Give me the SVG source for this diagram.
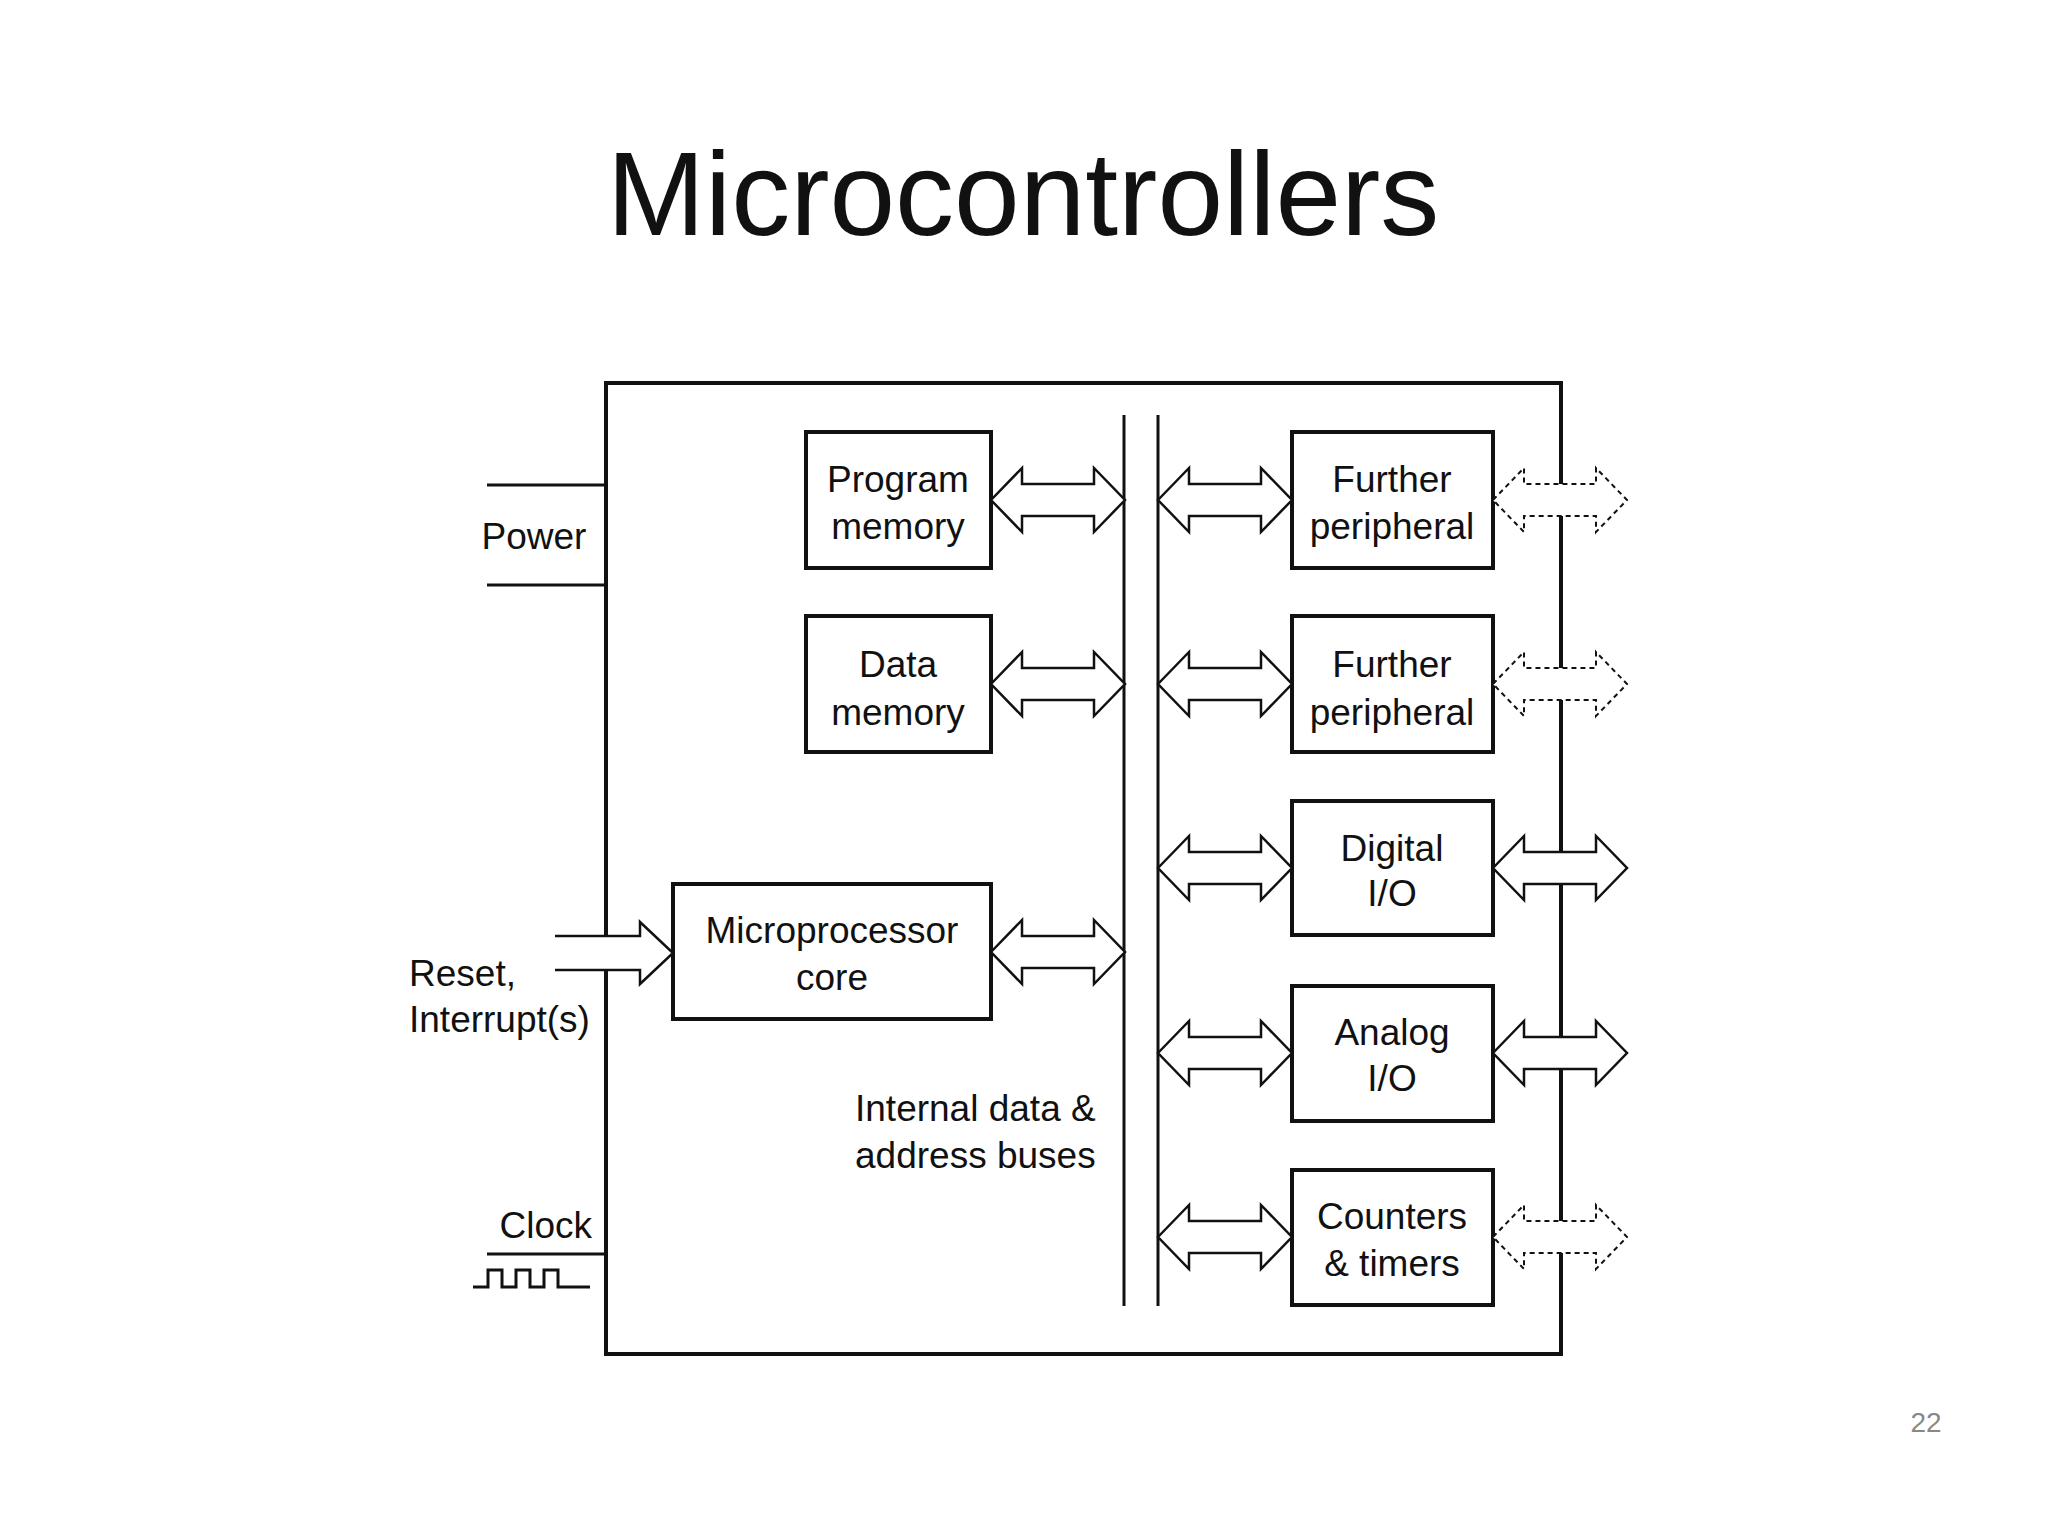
<svg xmlns="http://www.w3.org/2000/svg" xmlns:xlink="http://www.w3.org/1999/xlink" width="2048" height="1536" viewBox="0 0 2048 1536">
<style>
text{font-family:"Liberation Sans",Arial,sans-serif;fill:#111}
.t{font-size:37px}
.c{text-anchor:middle}
.box{fill:#fff;stroke:#111;stroke-width:4}
.ln{stroke:#111;stroke-width:3;fill:none}
.ar{fill:#fff;stroke:#111;stroke-width:2.5}
.da{fill:#fff;stroke:#111;stroke-width:2;stroke-dasharray:5 4}
</style>
<defs>
<path id="dbl" d="M0,0 L31,-32 L31,-16 L103,-16 L103,-32 L134,0 L103,32 L103,16 L31,16 L31,32 Z"/>
</defs>
<rect width="2048" height="1536" fill="#fff"/>
<text x="1023" y="235" class="c" style="font-size:118px">Microcontrollers</text>
<g id="chip"><rect x="606" y="383" width="955" height="971" class="box"/></g>
<g id="bus"><line x1="1124" y1="415" x2="1124" y2="1306" class="ln"/><line x1="1158" y1="415" x2="1158" y2="1306" class="ln"/></g>
<g id="prog"><rect x="806" y="432" width="185" height="136" class="box"/><text x="898" y="492" class="t c">Program</text><text x="898" y="539" class="t c">memory</text></g>
<g id="data"><rect x="806" y="616" width="185" height="136" class="box"/><text x="898" y="677" class="t c">Data</text><text x="898" y="725" class="t c">memory</text></g>
<g id="core"><rect x="673" y="884" width="318" height="135" class="box"/><text x="832" y="943" class="t c">Microprocessor</text><text x="832" y="990" class="t c">core</text></g>
<g id="fp1"><rect x="1292" y="432" width="201" height="136" class="box"/><text x="1392" y="492" class="t c">Further</text><text x="1392" y="539" class="t c">peripheral</text></g>
<g id="fp2"><rect x="1292" y="616" width="201" height="136" class="box"/><text x="1392" y="677" class="t c">Further</text><text x="1392" y="725" class="t c">peripheral</text></g>
<g id="dio"><rect x="1292" y="801" width="201" height="134" class="box"/><text x="1392" y="861" class="t c">Digital</text><text x="1392" y="906" class="t c">I/O</text></g>
<g id="aio"><rect x="1292" y="986" width="201" height="135" class="box"/><text x="1392" y="1045" class="t c">Analog</text><text x="1392" y="1091" class="t c">I/O</text></g>
<g id="ct"><rect x="1292" y="1170" width="201" height="135" class="box"/><text x="1392" y="1229" class="t c">Counters</text><text x="1392" y="1276" class="t c">&amp; timers</text></g>
<g id="labels">
<text x="534" y="549" class="t c">Power</text>
<text x="409" y="986" class="t">Reset,</text>
<text x="409" y="1032" class="t">Interrupt(s)</text>
<text x="592" y="1238" class="t" text-anchor="end">Clock</text>
<text x="855" y="1121" class="t">Internal data &amp;</text>
<text x="855" y="1168" class="t">address buses</text>
<text x="1926" y="1432" class="c" style="font-size:28px;fill:#888">22</text>
</g>
<g id="connectors">
<line x1="487" y1="485" x2="605" y2="485" class="ln"/>
<line x1="487" y1="585" x2="605" y2="585" class="ln"/>
<line x1="487" y1="1254" x2="605" y2="1254" class="ln"/>
<path d="M473,1287 L488,1287 L488,1270 L502,1270 L502,1287 L516,1287 L516,1270 L530,1270 L530,1287 L544,1287 L544,1270 L558,1270 L558,1287 L590,1287" class="ln" stroke-width="2"/>
<path d="M555,936 L640,936 L640,922 L673,953 L640,984 L640,970 L555,970" class="ar"/>
<use xlink:href="#dbl" href="#dbl" x="991" y="500" class="ar"/>
<use xlink:href="#dbl" href="#dbl" x="991" y="684" class="ar"/>
<use xlink:href="#dbl" href="#dbl" x="991" y="952" class="ar"/>
<use xlink:href="#dbl" href="#dbl" x="1158" y="500" class="ar"/>
<use xlink:href="#dbl" href="#dbl" x="1158" y="684" class="ar"/>
<use xlink:href="#dbl" href="#dbl" x="1158" y="868" class="ar"/>
<use xlink:href="#dbl" href="#dbl" x="1158" y="1053" class="ar"/>
<use xlink:href="#dbl" href="#dbl" x="1158" y="1237" class="ar"/>
<use xlink:href="#dbl" href="#dbl" x="1493" y="500" class="da"/>
<use xlink:href="#dbl" href="#dbl" x="1493" y="684" class="da"/>
<use xlink:href="#dbl" href="#dbl" x="1493" y="868" class="ar"/>
<use xlink:href="#dbl" href="#dbl" x="1493" y="1053" class="ar"/>
<use xlink:href="#dbl" href="#dbl" x="1493" y="1237" class="da"/>
</g>
</svg>
